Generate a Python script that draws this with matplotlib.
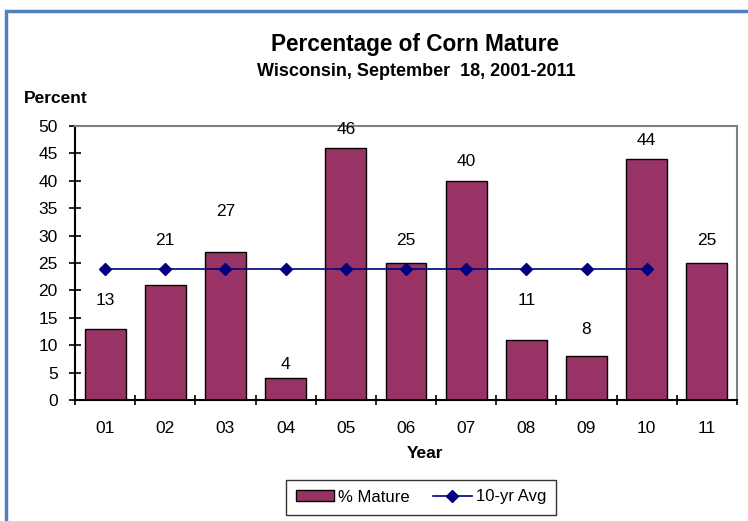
import matplotlib.pyplot as plt
from matplotlib.patches import Rectangle
import numpy as np

plt.rcParams['font.family'] = ['Liberation Sans', 'DejaVu Sans']

years = ['01', '02', '03', '04', '05', '06', '07', '08', '09', '10', '11']
mature = [13, 21, 27, 4, 46, 25, 40, 11, 8, 44, 25]
avg_years = ['01', '02', '03', '04', '05', '06', '07', '08', '09', '10']
avg = [23.9] * 10

# how far above each bar the label sits (points)
label_lift = [20, 32, 29, 10, 13, 16, 14, 28, 19, 13, 16]

fig = plt.figure(figsize=(7.48, 5.21), dpi=100)
ax = fig.add_axes([75/748, 121/521, 662/748, 274/521])

x = np.arange(len(years))
ax.bar(x, mature, width=0.68, color='#993366', edgecolor='black', linewidth=1, label='% Mature', zorder=2)
xa = np.arange(len(avg_years))
ax.plot(xa, avg, '-', color='#000080', marker='D', markersize=6, linewidth=1.2, label='10-yr Avg', zorder=3)

for xi, v, lift in zip(x, mature, label_lift):
    ax.annotate(str(v), (xi, v), xytext=(0, lift), textcoords='offset points',
                ha='center', va='center', fontsize=12.5)

ax.set_xlim(-0.5, 10.5)
ax.set_ylim(0, 50)
ax.set_yticks(range(0, 51, 5))
ax.set_xticks(x)
ax.set_xticklabels(years, fontsize=12.5)
ax.set_xticks(np.arange(-0.5, 11, 1), minor=True)
ax.tick_params(axis='x', which='major', length=0, pad=15)
ax.tick_params(axis='x', which='minor', length=7, direction='inout', width=1.2)
ax.tick_params(axis='y', length=9, direction='inout', labelsize=12.5, width=1.2, pad=8)
for s in ['top', 'right']:
    ax.spines[s].set_color('#808080')
    ax.spines[s].set_linewidth(1.5)
for s in ['left', 'bottom']:
    ax.spines[s].set_color('black')
    ax.spines[s].set_linewidth(1.5)

fig.text(415/748, 1 - 45/521, 'Percentage of Corn Mature', ha='center', va='center',
         fontsize=16.3, fontweight='bold')
fig.text(416/748, 1 - 71/521, 'Wisconsin, September  18, 2001-2011', ha='center', va='center',
         fontsize=13, fontweight='bold')
fig.text(24/748, 1 - 99/521, 'Percent', ha='left', va='center', fontsize=12.5, fontweight='bold')
fig.text(425/748, 1 - 453/521, 'Year', ha='center', va='center', fontsize=12.5, fontweight='bold')

handles, labels = ax.get_legend_handles_labels()
order = [1, 0]
leg = fig.legend([handles[i] for i in order], [labels[i] for i in order],
                 loc='center', bbox_to_anchor=(421/748, 1 - 497/521), ncol=2, fontsize=12,
                 frameon=True, fancybox=False, edgecolor='black', handlelength=2.3,
                 handleheight=0.6, columnspacing=1.4, borderpad=0.6, handletextpad=0.25,
                 borderaxespad=0)
leg.get_frame().set_linewidth(1)

fig.patches.append(Rectangle((6/748, -0.1), 1.2, 1 - 11/521 + 0.1, transform=fig.transFigure,
                             fill=False, edgecolor='#4F81BD', linewidth=2.5))

fig.savefig('out.png', dpi=100)
